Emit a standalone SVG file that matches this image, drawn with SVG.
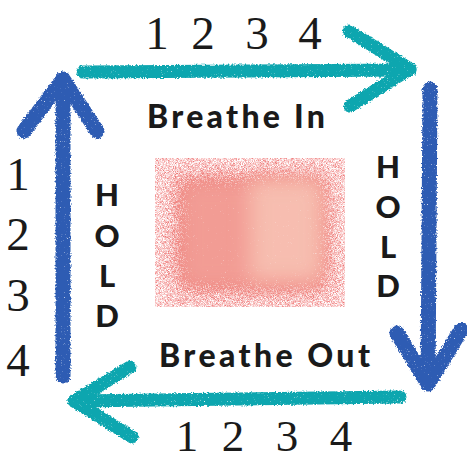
<svg xmlns="http://www.w3.org/2000/svg" width="467" height="460" viewBox="0 0 467 460">
<style>
.num{font-family:"Liberation Serif","Times New Roman",serif;font-size:47px;fill:#1a1a1a;text-anchor:middle}
.numb{font-size:45px}
.lbl{font-family:Lato,"Open Sans",sans-serif;font-weight:900;font-size:32px;fill:#1a1a1a}
.hold{font-family:Lato,"Open Sans",sans-serif;font-weight:900;font-size:31px;fill:#1a1a1a;text-anchor:middle}
.teal{stroke:#11a6af;stroke-width:13;stroke-linecap:round;stroke-linejoin:round;fill:none}
.blue{stroke:#2f5cb3;stroke-width:15;stroke-linecap:round;stroke-linejoin:round;fill:none}
</style>
<defs>
<filter id="crayon" filterUnits="userSpaceOnUse" x="0" y="0" width="467" height="460">
<feTurbulence type="fractalNoise" baseFrequency="0.6" numOctaves="2" seed="2" result="t"/>
<feDisplacementMap in="SourceGraphic" in2="t" scale="4" xChannelSelector="R" yChannelSelector="G" result="d"/>
<feTurbulence type="fractalNoise" baseFrequency="1.3" numOctaves="1" seed="5" result="t2"/>
<feColorMatrix in="t2" type="matrix" values="0 0 0 0 1 0 0 0 0 1 0 0 0 0 1 0 0 0 -6 5.1" result="holes"/>
<feComposite in="d" in2="holes" operator="in"/>
</filter>
<filter id="soft" x="-50%" y="-50%" width="200%" height="200%">
<feGaussianBlur stdDeviation="10"/>
</filter>
<filter id="grain" filterUnits="userSpaceOnUse" x="155" y="158" width="190" height="149">
<feTurbulence type="fractalNoise" baseFrequency="1.4" numOctaves="2" seed="8" result="n"/>
<feColorMatrix in="n" type="matrix" values="0 0 0 0 0 0 0 0 0 0 0 0 0 0 0 0 0 0 1 0" result="na"/>
<feComposite in="SourceAlpha" in2="na" operator="arithmetic" k1="0" k2="2.2" k3="2" k4="-1.75" result="mask"/>
<feColorMatrix in="SourceGraphic" type="matrix" values="1 0 0 0 0 0 1 0 0 0 0 0 1 0 0 0 0 0 0 1" result="col"/>
<feComposite in="col" in2="mask" operator="in"/>
</filter>
</defs>

<g id="connectors" filter="url(#crayon)">
<g id="arrow-top" class="teal">
<path d="M83 72 L410 70"/>
<path d="M349 31 L410 69 L350 106"/>
</g>
<g id="arrow-right" class="blue">
<path d="M430 89 L428 383"/>
<path d="M397 333 L428 384 L461 330"/>
</g>
<g id="arrow-bottom" class="teal">
<path d="M400 397 L74 401"/>
<path d="M130 367 L74 401 L132 437"/>
</g>
<g id="arrow-left" class="blue">
<path d="M63 376 L63 80"/>
<path d="M24 131 L63 79 L97 131"/>
</g>
</g>

<g id="center-pad" filter="url(#grain)">
<rect x="155" y="158" width="190" height="149" fill="#ee7070" fill-opacity="0.48"/>
<rect x="180" y="180" width="142" height="108" fill="#f29c94" filter="url(#soft)"/>
<rect x="250" y="180" width="72" height="100" fill="#f8c6b6" fill-opacity="0.8" filter="url(#soft)"/>
</g>

<g id="count-top">
<text class="num" x="157" y="49">1</text>
<text class="num" x="203" y="49">2</text>
<text class="num" x="257" y="49">3</text>
<text class="num" x="310" y="49">4</text>
</g>
<g id="count-left">
<text class="num" x="18" y="190">1</text>
<text class="num" x="18" y="250">2</text>
<text class="num" x="18" y="311">3</text>
<text class="num" x="18" y="376">4</text>
</g>
<g id="count-bottom">
<text class="num numb" x="187" y="451">1</text>
<text class="num numb" x="233" y="451">2</text>
<text class="num numb" x="287" y="451">3</text>
<text class="num numb" x="341" y="451">4</text>
</g>

<g id="label-breathe-in">
<text class="lbl" x="147" y="128" textLength="178" lengthAdjust="spacing">Breathe In</text>
</g>
<g id="label-breathe-out">
<text class="lbl" x="159" y="367" textLength="211" lengthAdjust="spacing">Breathe Out</text>
</g>
<g id="label-hold-left">
<text class="hold" x="107" y="206">H</text>
<text class="hold" x="107" y="247">O</text>
<text class="hold" x="107" y="287">L</text>
<text class="hold" x="107" y="327">D</text>
</g>
<g id="label-hold-right">
<text class="hold" x="388" y="178">H</text>
<text class="hold" x="388" y="218">O</text>
<text class="hold" x="388" y="258">L</text>
<text class="hold" x="388" y="297">D</text>
</g>
</svg>
